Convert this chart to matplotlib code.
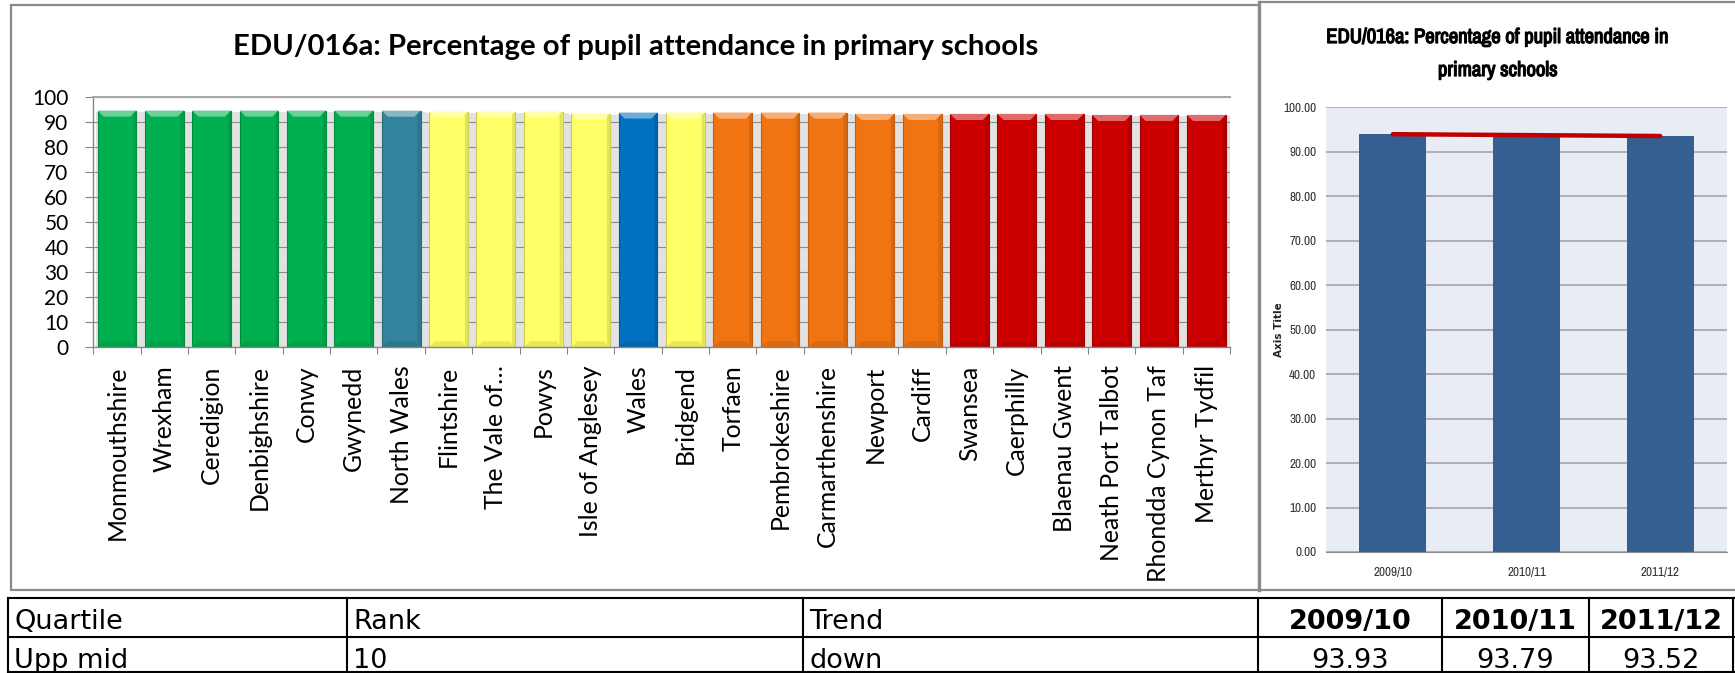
import matplotlib
matplotlib.use("Agg")
import matplotlib.pyplot as plt
import matplotlib.colors as mcolors
import matplotlib.patheffects as pe
from matplotlib import font_manager
from matplotlib.patches import Rectangle, Polygon
from matplotlib.lines import Line2D
import numpy as np

# ---------------------------------------------------------------- data
authorities = [
    "Monmouthshire", "Wrexham", "Ceredigion", "Denbighshire", "Conwy",
    "Gwynedd", "North Wales", "Flintshire", "The Vale of\u2026", "Powys",
    "Isle of Anglesey", "Wales", "Bridgend", "Torfaen", "Pembrokeshire",
    "Carmarthenshire", "Newport", "Cardiff", "Swansea", "Caerphilly",
    "Blaenau Gwent", "Neath Port Talbot", "Rhondda Cynon Taf", "Merthyr Tydfil",
]
attendance = [
    94.67, 94.67, 94.67, 94.67, 94.67,
    94.67, 94.63, 94.27, 94.27, 94.27,
    93.52, 93.87, 93.87, 93.87, 93.87,
    93.87, 93.33, 93.33, 93.33, 93.33,
    93.33, 92.93, 92.93, 92.93,
]
quartile_group = [
    "top", "top", "top", "top", "top",
    "top", "region", "upper", "upper", "upper",
    "upper", "nation", "upper", "lower", "lower",
    "lower", "lower", "lower", "bottom", "bottom",
    "bottom", "bottom", "bottom", "bottom",
]
group_colours = {
    "top": "#00B050", "region": "#31849B", "upper": "#FFFF66",
    "nation": "#0070C0", "lower": "#F07412", "bottom": "#CC0000",
}

years = ["2009/10", "2010/11", "2011/12"]
local_attendance = [93.93, 93.79, 93.52]

table_header = ["Quartile", "Rank", "Trend"]
table_row = ["Upp mid", "10", "down"]

title_main = "EDU/016a: Percentage of pupil attendance in primary schools"
title_trend = ["EDU/016a: Percentage of pupil attendance in", "primary schools"]

# ---------------------------------------------------------------- setup
W, H, DPI = 1735, 673, 100

fonts = font_manager.fontManager.ttflist
available = {f.name for f in fonts}


def pick_font(*names):
    for n in names:
        if n in available:
            return n
    return "DejaVu Sans"


def weight_value(w):
    if isinstance(w, (int, float)):
        return w
    return font_manager.weight_dict.get(str(w), 400)


def pick_narrow():
    for key in ("Narrow", "Condensed"):
        for f in fonts:
            if key in f.name:
                return f.name
    return pick_font("Liberation Sans", "DejaVu Sans")


SANS = pick_font("Lato", "Open Sans", "DejaVu Sans")
NARROW = pick_narrow()
NARROW_HAS_BOLD = any(f.name == NARROW and weight_value(f.weight) >= 600 for f in fonts)
TABLE = "DejaVu Sans"

fig = plt.figure(figsize=(W / DPI, H / DPI), dpi=DPI, facecolor="white")
renderer = fig.canvas.get_renderer()


def fx(px):
    return px / W


def fy(py):
    return 1 - py / H


def fit_width(text, target):
    w = text.get_window_extent(renderer).width
    text.set_fontsize(text.get_fontsize() * target / w)


# overlay in pixel coordinates for frames and the summary table
ov = fig.add_axes([0, 0, 1, 1], zorder=0)
ov.set_xlim(0, W)
ov.set_ylim(H, 0)
ov.axis("off")

frame_col = "#8A8A8A"
ov.add_patch(Rectangle((11, 5), 1248, 585, fill=False, ec=frame_col, lw=1.6))
ov.add_line(Line2D([1259, 1735], [2, 2], color=frame_col, lw=1.6))
ov.add_line(Line2D([1259, 1259], [2, 590], color=frame_col, lw=2.4))
ov.add_line(Line2D([1259, 1735], [590, 590], color=frame_col, lw=1.6))

# ---------------------------------------------------------------- left chart
ax = fig.add_axes([fx(93.3), fy(347.3), (1230 - 93.3) / W, 250 / H], zorder=2)
ax.set_facecolor("white")
x = np.arange(len(authorities))
bw = 0.82

colours = [group_colours[g] for g in quartile_group]
# soft drop shadow behind each column
ax.bar(x + 0.05, np.array(attendance) - 0.4, width=1.0, color="#E2E2E2",
       zorder=0.3, linewidth=0)
bars = ax.bar(x, attendance, width=bw, color=colours, zorder=2,
              edgecolor=[tuple(c * 0.8 for c in mcolors.to_rgb(col)) for col in colours],
              linewidth=0.8)

# bevel highlights on top and shading at the foot of each column
dx, dy = 0.13, 2.4
for rect, col in zip(bars, colours):
    rgb = np.array(mcolors.to_rgb(col))
    light = rgb + (1 - rgb) * 0.42
    dark = rgb * 0.82
    x0 = rect.get_x()
    x1 = x0 + rect.get_width()
    top = rect.get_height()
    ax.add_patch(Polygon([(x0, top), (x1, top), (x1 - dx, top - dy), (x0 + dx, top - dy)],
                         closed=True, fc=light, ec="none", zorder=2.5))
    ax.add_patch(Polygon([(x1, top), (x1, 0), (x1 - dx * 0.5, dy * 0.5),
                          (x1 - dx * 0.5, top - dy * 0.5)],
                         closed=True, fc=dark, ec="none", alpha=0.6, zorder=2.5))
    ax.add_patch(Polygon([(x0, 0), (x1, 0), (x1 - dx, dy), (x0 + dx, dy)],
                         closed=True, fc=dark, ec="none", alpha=0.5, zorder=2.5))

ax.set_xlim(-0.5, len(authorities) - 0.5)
ax.set_ylim(0, 100)
ax.set_yticks(np.arange(0, 101, 10))
ax.set_axisbelow(True)
ax.yaxis.grid(True, color="#8C8C8C", linewidth=0.8, zorder=0.5)
ax.spines["right"].set_visible(False)
ax.spines["top"].set_color("#A8A8A8")
ax.spines["top"].set_linewidth(1.5)
for s in ("left", "bottom"):
    ax.spines[s].set_color("#868686")
    ax.spines[s].set_linewidth(1.0)

ax.tick_params(axis="y", direction="out", length=5.8, width=0.8, color="#868686",
               pad=12, labelsize=15)
for lab in ax.get_yticklabels():
    lab.set_fontfamily(SANS)

ax.set_xticks(x)
ax.set_xticklabels(authorities, rotation=90, fontfamily=SANS, fontsize=19,
                   va="top", ha="center")
ax.tick_params(axis="x", which="major", length=0, pad=13)
ax.set_xticks(np.arange(-0.5, len(authorities), 1.0), minor=True)
ax.tick_params(axis="x", which="minor", direction="out", length=5, width=0.8,
               color="#868686")

fig.canvas.draw()
first = ax.get_xticklabels()[0]
scale = 175 / first.get_window_extent(renderer).height
for lab in ax.get_xticklabels():
    lab.set_fontsize(lab.get_fontsize() * scale)

t_main = fig.text(fx(636), fy(55), title_main, ha="center", va="baseline",
                  fontfamily=SANS, fontweight="bold", fontsize=20)
fit_width(t_main, 805)

# ---------------------------------------------------------------- right chart
ax2 = fig.add_axes([fx(1326), fy(552), 401 / W, (552 - 107.3) / H], zorder=2)
ax2.set_facecolor("#E8ECF4")
xi = np.arange(len(years))
ax2.bar(xi, local_attendance, width=0.5, color="#365F91", zorder=2)
slope, intercept = np.polyfit(xi, local_attendance, 1)
ax2.plot([xi[0], xi[-1]], [intercept + slope * xi[0], intercept + slope * xi[-1]],
         color="#C00000", lw=3.2, solid_capstyle="round", zorder=3)
ax2.set_xlim(-0.5, len(years) - 0.5)
ax2.set_ylim(0, 100)
ax2.set_yticks(np.arange(0, 101, 10))
ax2.set_yticklabels([f"{v:.2f}" for v in np.arange(0, 101, 10)])
ax2.set_xticks(xi)
ax2.set_xticklabels(years)
ax2.set_axisbelow(True)
ax2.yaxis.grid(True, color="#A0A0A0", linewidth=1.1, zorder=0.5)
for s in ("left", "right", "top"):
    ax2.spines[s].set_visible(False)
ax2.spines["bottom"].set_color("#8C8C8C")
ax2.tick_params(axis="both", length=0, labelsize=9.5, labelcolor="#333333")
ax2.tick_params(axis="y", pad=7)
ax2.tick_params(axis="x", pad=11)
for lab in ax2.get_xticklabels() + ax2.get_yticklabels():
    lab.set_fontfamily(NARROW)

fig.text(fx(1279), fy(330), "Axis Title", rotation=90, ha="center", va="center",
         fontfamily="DejaVu Sans", fontweight="bold", fontsize=7.5, color="#222222")

# heavier strokes stand in for a bold face if the narrow family has none
title_fx = [] if NARROW_HAS_BOLD else [pe.withStroke(linewidth=0.9, foreground="black")]
t1 = fig.text(fx(1498), fy(43), title_trend[0], ha="center", va="baseline",
              fontfamily=NARROW, fontweight="bold", fontsize=12,
              path_effects=title_fx)
fit_width(t1, 342)
fig.text(fx(1498), fy(76), title_trend[1], ha="center", va="baseline",
         fontfamily=NARROW, fontweight="bold", fontsize=t1.get_fontsize(),
         path_effects=title_fx)

# ---------------------------------------------------------------- table
tlw = 1.5
for yy in (598, 637, 672):
    ov.add_line(Line2D([8, 1735], [yy, yy], color="black", lw=tlw))
col_edges = [8, 347, 803, 1258, 1442, 1589, 1733]
for xx in col_edges:
    ov.add_line(Line2D([xx, xx], [598, 673], color="black", lw=tlw))

fs_tab = 19.5
for left, head, val in zip(col_edges[:3], table_header, table_row):
    ov.text(left + 6, 629, head, ha="left", va="baseline", fontfamily=TABLE,
            fontsize=fs_tab)
    ov.text(left + 6, 668, val, ha="left", va="baseline", fontfamily=TABLE,
            fontsize=fs_tab)
for i, (yr, v) in enumerate(zip(years, local_attendance)):
    cx = (col_edges[3 + i] + col_edges[4 + i]) / 2
    ov.text(cx, 629, yr, ha="center", va="baseline", fontfamily=TABLE,
            fontweight="bold", fontsize=fs_tab)
    ov.text(cx, 668, f"{v:.2f}", ha="center", va="baseline", fontfamily=TABLE,
            fontsize=fs_tab)

fig.savefig("out.png", dpi=DPI, facecolor="white")
